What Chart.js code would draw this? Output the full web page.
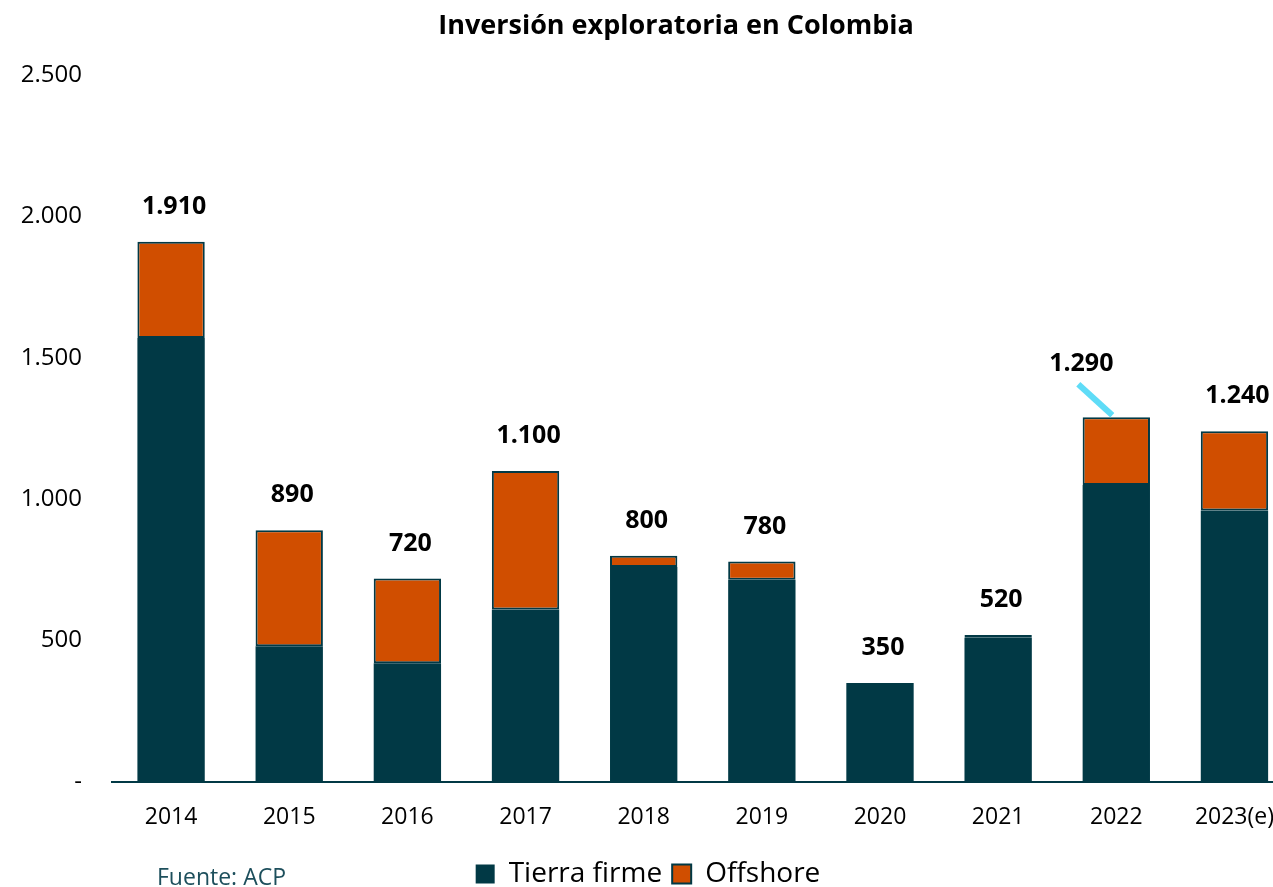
<!DOCTYPE html>
<html>
<head>
<meta charset="utf-8">
<script src="https://cdn.jsdelivr.net/npm/chart.js@4.4.0/dist/chart.umd.min.js"></script>
<style>
  html, body { margin: 0; padding: 0; background: #fff; }
  #wrap { position: relative; width: 1273px; height: 887px; overflow: hidden; }
  #box { position: absolute; left: 0; top: 0; width: 1296px; height: 898px; }
  #title { position: absolute; left: 676px; top: 7px; transform: translateX(-50%); white-space: nowrap;
           font: bold 27px/34px "Open Sans", sans-serif; color: #000; }
  #fuente { position: absolute; left: 157px; top: 860px; font: 23px "Open Sans", sans-serif; color: #1d4f5c; }
</style>
</head>
<body>
<div id="wrap">
  <div id="box"><canvas id="chart" width="1296" height="898"></canvas></div>
  <div id="title">Inversión exploratoria en Colombia</div>
  <div id="fuente">Fuente: ACP</div>
</div>
<script>
// --- Data ---
const years = ["2014", "2015", "2016", "2017", "2018", "2019", "2020", "2021", "2022", "2023(e)"];
const tierraFirme = [1570, 480, 420, 610, 760, 715, 350, 510, 1050, 960];
const offshore = [340, 410, 300, 490, 40, 65, 0, 10, 240, 280];
const totals = [1910, 890, 720, 1100, 800, 780, 350, 520, 1290, 1240];

const teal = "#013945";
const orange = "#d04e00";

function fmt(v) {
  if (v === 0) return "-";
  return v.toLocaleString("de-DE");
}

// --- Total labels above each stack ---
const totalLabels = {
  id: "totalLabels",
  afterDatasetsDraw(chart) {
    const ctx = chart.ctx;
    const meta = chart.getDatasetMeta(1);
    ctx.save();
    ctx.font = "bold 25px 'Open Sans'";
    ctx.fillStyle = "#000";
    ctx.textAlign = "center";
    ctx.textBaseline = "middle";
    meta.data.forEach((bar, i) => {
      let x = bar.x + 3;
      let y = bar.y - 35;
      if (i === 8) {
        // moved label with leader line
        x = bar.x - 35;
        y = bar.y - 53;
        ctx.strokeStyle = "#5fdcf7";
        ctx.lineWidth = 6;
        ctx.beginPath();
        ctx.moveTo(bar.x - 38, bar.y - 33);
        ctx.lineTo(bar.x - 4, bar.y - 2);
        ctx.stroke();
      }
      ctx.fillText(fmt(totals[i]), x, y);
    });
    ctx.restore();
  }
};

const ctx = document.getElementById("chart").getContext("2d");
new Chart(ctx, {
  type: "bar",
  data: {
    labels: years,
    datasets: [
      { label: "Tierra firme", data: tierraFirme, backgroundColor: teal, borderColor: teal, borderWidth: 0 },
      { label: "Offshore", data: offshore, backgroundColor: orange, borderColor: teal, borderWidth: 2, borderSkipped: false }
    ]
  },
  options: {
    responsive: false,
    animation: false,
    layout: { padding: { top: 75, bottom: 0, left: 0, right: 0 } },
    datasets: { bar: { barPercentage: 0.57, categoryPercentage: 1 } },
    plugins: {
      title: { display: false },
      legend: {
        position: "bottom",
        labels: {
          color: "#000",
          font: { family: "Open Sans", size: 28 },
          boxWidth: 19,
          boxHeight: 19,
          padding: 10
        }
      },
      tooltip: { enabled: false }
    },
    scales: {
      x: {
        stacked: true,
        grid: { display: false, drawTicks: false },
        border: { color: teal, width: 2 },
        ticks: { color: "#000", font: { family: "Open Sans", size: 23 }, padding: 22 },
        afterFit: (s) => { s.height = 68; }
      },
      y: {
        stacked: true,
        min: 0,
        max: 2500,
        grid: { display: false, drawTicks: false },
        border: { display: false },
        ticks: {
          stepSize: 500,
          color: "#000",
          font: { family: "Open Sans", size: 24 },
          padding: 30,
          callback: (v) => fmt(v)
        },
        afterFit: (s) => { s.width = 112; }
      }
    }
  },
  plugins: [totalLabels]
});
</script>
</body>
</html>
